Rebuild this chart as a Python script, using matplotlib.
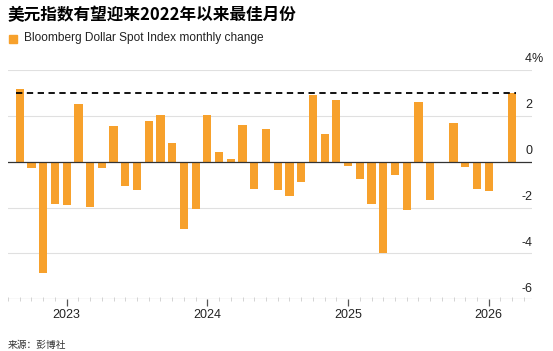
import numpy as np
import matplotlib.pyplot as plt
from matplotlib.ticker import MultipleLocator

plt.rcParams['font.family'] = ['Liberation Sans', 'Noto Sans CJK SC', 'DejaVu Sans']

# monthly change, Sep 2022 .. Mar 2026
start_year, start_month = 2022, 9
changes = [3.15, -0.28, -4.86, -1.84, -1.90, 2.51, -1.96, -0.29, 1.55, -1.06,
           -1.23, 1.78, 2.04, 0.80, -2.92, -2.05, 2.04, 0.43, 0.12, 1.61,
           -1.19, 1.41, -1.23, -1.50, -0.90, 2.93, 1.20, 2.68, -0.20, -0.74,
           -1.83, -4.00, -0.60, -2.10, 2.60, -1.68, 0.00, 1.68, -0.25, -1.18,
           -1.28, -0.05, 3.00]
best_level = 3.0
year_ticks = [2023, 2024, 2025, 2026]
y_ticks = [4, 2, 0, -2, -4, -6]

title = '美元指数有望迎来2022年以来最佳月份'
legend_label = 'Bloomberg Dollar Spot Index monthly change'
source = '来源：彭博社'

bar_color = '#F7A12C'

n = len(changes)
x = start_year + (start_month - 1 + np.arange(n)) / 12.0

fig = plt.figure(figsize=(5.53, 3.51), dpi=100)
ax = fig.add_axes([8 / 553, 51.7 / 351, 524 / 553, 229.3 / 351])

ax.bar(x, changes, width=0.7 / 12, color=bar_color, zorder=2)
ax.hlines(best_level, x[0] - 0.3 / 12, x[-1] + 0.3 / 12, colors='black',
          linestyles=(0, (3.5, 2.5)), linewidth=1.3, zorder=3)

for v in y_ticks:
    if v == 0:
        ax.axhline(0, color='#333333', linewidth=0.9, zorder=4)
    elif v == -6:
        ax.axhline(v, color='#cccccc', linewidth=0.9, zorder=1)
    else:
        ax.axhline(v, color='#e0e0e0', linewidth=0.8, zorder=1)
    ax.text(1.0, v + 0.2, str(v), transform=ax.get_yaxis_transform(),
            ha='right', va='bottom', fontsize=9, color='#222222')
ax.text(1.0, y_ticks[0] + 0.2, '%', transform=ax.get_yaxis_transform(),
        ha='left', va='bottom', fontsize=9, color='#222222')

ax.set_xlim(2022.583, 2022.583 + 524 / 140.7)
ax.set_ylim(-6, 4)
for s in ax.spines.values():
    s.set_visible(False)
ax.set_yticks([])
ax.set_xticks(year_ticks)
ax.set_xticklabels([str(y) for y in year_ticks], fontsize=9, color='#222222')
ax.xaxis.set_minor_locator(MultipleLocator(1 / 12))
ax.tick_params(axis='x', which='major', length=5, width=0.9, color='#555555',
               direction='out', pad=2)
ax.tick_params(axis='x', which='minor', length=2.5, width=0.6, color='#cccccc',
               direction='inout')

fig.text(8 / 553, 1 - 15.5 / 351, title, fontsize=12, fontweight='bold',
         family=['Noto Sans CJK SC', 'DejaVu Sans'], va='center', ha='left')
fig.patches.append(plt.Rectangle((9 / 553, 1 - 42.5 / 351), 7.5 / 553, 7.5 / 351,
                                 transform=fig.transFigure, color=bar_color))
fig.text(24 / 553, 1 - 38.5 / 351, legend_label, fontsize=8.6, va='center',
         ha='left', color='#222222')
fig.text(8 / 553, 1 - 345 / 351, source, fontsize=7,
         family=['Noto Sans CJK SC', 'DejaVu Sans'], va='center', ha='left',
         color='#333333')

fig.savefig('out.png', dpi=100)
